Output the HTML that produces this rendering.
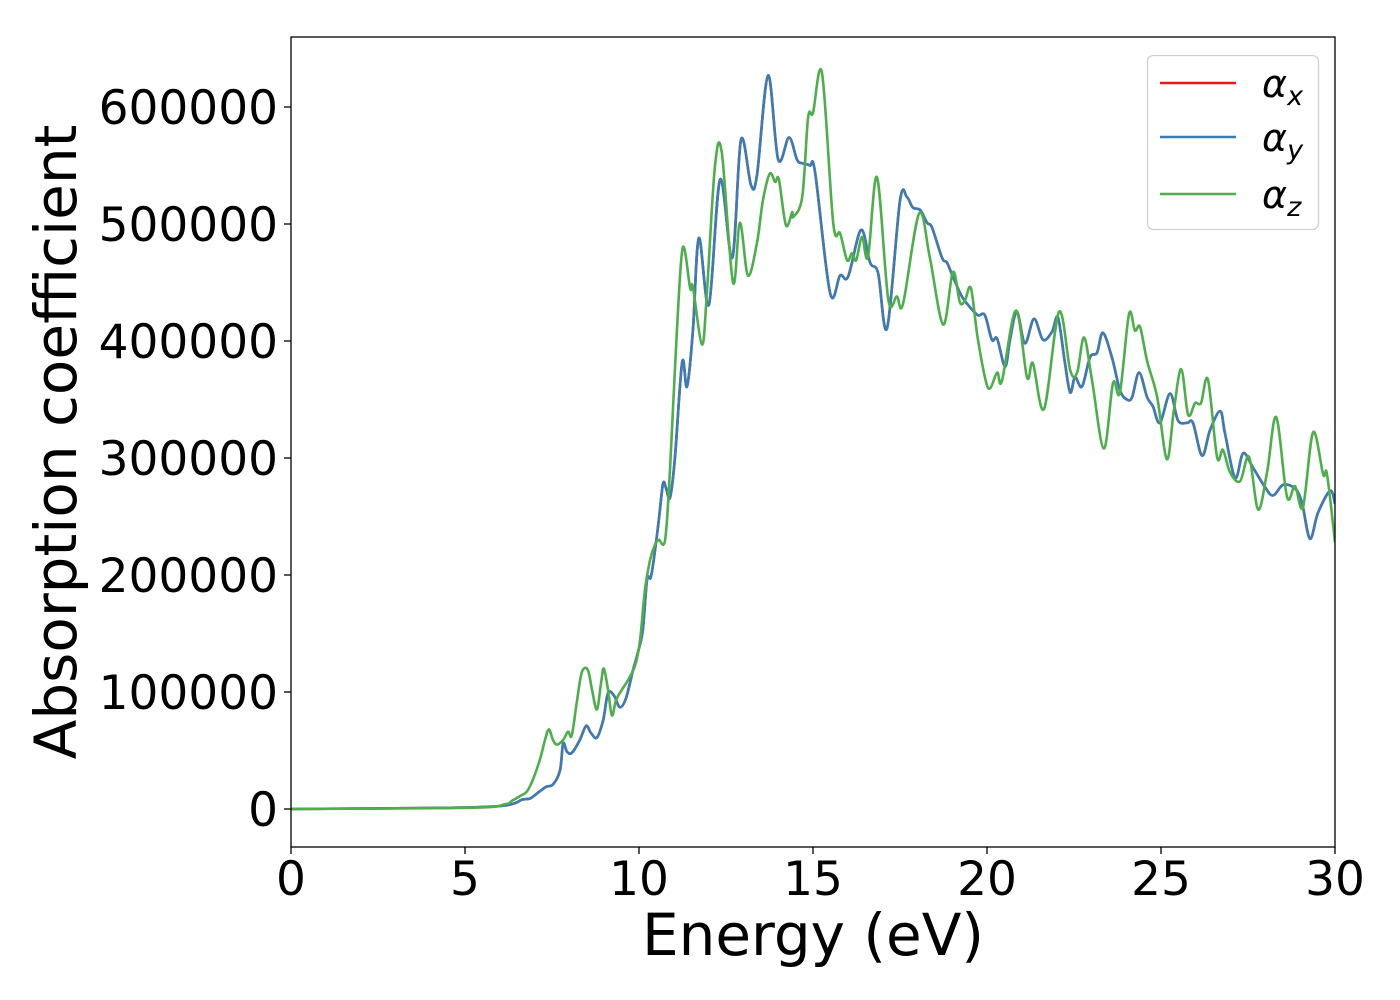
<!DOCTYPE html>
<html><head><meta charset="utf-8"><style>
html,body{margin:0;padding:0;background:#fff;}
svg{display:block;}
text{font-family:"DejaVu Sans","Liberation Sans",sans-serif;fill:#000;}
</style></head><body>
<svg id="chart" width="1400" height="1000" viewBox="0 0 1400 1000" xmlns="http://www.w3.org/2000/svg">
<rect x="0" y="0" width="1400" height="1000" fill="#fff"/>
<g id="grid"></g>
<g id="plot"></g>
<rect x="291" y="37" width="1044" height="810" fill="none" stroke="#000" stroke-width="1.3"/>
<text x="813" y="955" font-size="58" text-anchor="middle">Energy (eV)</text>
<text x="0" y="0" font-size="58" text-anchor="middle" transform="translate(76,442) rotate(-90)">Absorption coefficient</text>
<g>
<rect x="1147.5" y="55.5" width="171" height="174" rx="6" fill="#fff" stroke="#d0d0d0" stroke-width="1.3"/>
<line x1="1160" y1="83" x2="1236" y2="83" stroke="#e41a1c" stroke-width="2.6"/>
<text x="1262" y="97" font-size="38" font-style="italic">α<tspan font-size="27" dy="8">x</tspan></text>
<line x1="1160" y1="137" x2="1236" y2="137" stroke="#377eb8" stroke-width="2.6"/>
<text x="1262" y="151" font-size="38" font-style="italic">α<tspan font-size="27" dy="8">y</tspan></text>
<line x1="1160" y1="194" x2="1236" y2="194" stroke="#4daf4a" stroke-width="2.6"/>
<text x="1262" y="208" font-size="38" font-style="italic">α<tspan font-size="27" dy="8">z</tspan></text>
</g>
</svg>
<script>
const xTicks = [0, 5, 10, 15, 20, 25, 30];
const yTicks = [0, 100000, 200000, 300000, 400000, 500000, 600000];
const energyXY = [0,4.57,5.72,6.15,6.44,6.64,6.87,7.10,7.33,7.53,7.73,7.82,7.93,8.07,8.30,8.48,8.62,8.79,8.97,9.11,9.28,9.45,9.63,9.83,9.97,10.11,10.23,10.34,10.46,10.57,10.69,10.78,10.89,11.03,11.24,11.38,11.55,11.72,12.01,12.33,12.68,12.93,13.22,13.39,13.71,14.00,14.31,14.54,14.68,14.91,15.06,15.49,15.78,16.01,16.38,16.64,16.87,17.13,17.50,17.70,17.87,18.08,18.28,18.42,18.71,18.85,19.02,19.28,19.51,19.74,19.94,20.14,20.29,20.52,20.66,20.86,21.09,21.35,21.61,21.87,22.04,22.24,22.39,22.53,22.73,22.96,23.16,23.33,23.59,23.82,24.02,24.17,24.37,24.60,24.77,24.97,25.26,25.49,25.75,25.92,26.18,26.41,26.70,26.84,27.13,27.36,27.64,27.99,28.22,28.51,28.85,29.05,29.28,29.51,29.86,30.00];
const alphaXk = [0,1,2,3,5,8,9,14,19,21,33,56,49,48,59,71,65,61,76,99,97,87,95,119,134,153,196,198,221,247,278,274,266,299,382,361,409,488,431,538,471,572,533,542,627,555,574,555,552,550,544,441,456,455,495,467,458,411,520,523,514,512,501,497,471,467,455,438,429,422,422,401,402,378,401,425,398,419,401,408,420,381,356,369,361,386,390,407,386,358,350,352,373,352,344,330,355,332,330,330,302,324,340,321,283,304,292,275,268,277,274,262,231,253,272,261];
const alphaYk = alphaXk.slice();
const energyZ = [0,5.14,6.15,6.35,6.58,6.78,6.95,7.15,7.30,7.41,7.53,7.64,7.82,7.96,8.07,8.22,8.36,8.53,8.65,8.79,8.91,8.99,9.11,9.22,9.34,9.51,9.68,9.89,10.03,10.17,10.32,10.46,10.57,10.75,10.89,11.09,11.26,11.47,11.55,11.81,11.95,12.18,12.38,12.70,12.90,13.13,13.39,13.56,13.76,13.91,14.02,14.22,14.40,14.43,14.69,14.86,15.00,15.26,15.58,15.78,15.98,16.12,16.24,16.41,16.58,16.84,17.16,17.41,17.59,18.05,18.36,18.74,19.02,19.22,19.37,19.54,19.74,20.03,20.29,20.43,20.83,21.15,21.32,21.64,22.07,22.39,22.59,22.79,23.02,23.36,23.62,23.82,24.08,24.25,24.40,24.60,24.89,25.17,25.37,25.58,25.78,25.98,26.15,26.35,26.61,26.78,26.98,27.27,27.53,27.79,28.05,28.31,28.62,28.85,29.08,29.37,29.66,29.77,30.00];
const alphaZk = [0,1,4,7,11,15,25,42,59,68,59,55,59,66,63,93,117,119,102,85,108,120,102,80,93,102,110,123,144,187,213,226,230,230,290,409,480,445,446,397,441,549,561,450,501,456,484,520,543,536,538,499,510,506,523,591,595,629,501,492,469,475,469,489,472,540,436,438,432,509,471,414,459,433,435,445,401,360,373,366,426,369,381,342,425,375,373,403,366,308,364,356,423,409,412,383,352,299,341,376,337,347,347,367,301,307,288,280,301,256,288,335,267,276,258,322,286,286,228];

const X0=291, X1=1335, Y0=809, PXPER=1.17/1000;
function xs(e){return X0+(e-0)*(X1-X0)/30;}
function ys(v){return Y0-v*PXPER;}
const NS='http://www.w3.org/2000/svg';
const grid=document.getElementById('grid');
const plot=document.getElementById('plot');

xTicks.forEach(t=>{
  const l=document.createElementNS(NS,'line');
  l.setAttribute('x1',xs(t));l.setAttribute('x2',xs(t));l.setAttribute('y1',847);l.setAttribute('y2',854);
  l.setAttribute('stroke','#000');l.setAttribute('stroke-width','1.3');
  
  
  grid.appendChild(l);
  const tx=document.createElementNS(NS,'text');
  tx.setAttribute('x',xs(t));tx.setAttribute('y',895);tx.setAttribute('font-size','47');tx.setAttribute('text-anchor','middle');
  tx.textContent=String(t);
  
  
  grid.appendChild(tx);
});
yTicks.forEach(t=>{
  const l=document.createElementNS(NS,'line');
  l.setAttribute('x1',284);l.setAttribute('x2',291);l.setAttribute('y1',ys(t));l.setAttribute('y2',ys(t));
  l.setAttribute('stroke','#000');l.setAttribute('stroke-width','1.3');
  
  
  grid.appendChild(l);
  const tx=document.createElementNS(NS,'text');
  tx.setAttribute('x',278);tx.setAttribute('y',ys(t)+17);tx.setAttribute('font-size','47');tx.setAttribute('text-anchor','end');
  tx.textContent=String(t);
  
  
  grid.appendChild(tx);
});

function pathFor(es, vk){
  const p=es.map((e,i)=>[xs(e),ys(vk[i]*1000)]);
  let d='M'+p[0][0].toFixed(1)+','+p[0][1].toFixed(1);
  for(let i=0;i<p.length-1;i++){
    const a=p[i-1]||p[i], b=p[i], c=p[i+1], n=p[i+2]||c;
    const c1=[b[0]+(c[0]-a[0])/6, b[1]+(c[1]-a[1])/6];
    const c2=[c[0]-(n[0]-b[0])/6, c[1]-(n[1]-b[1])/6];
    d+=' C'+c1[0].toFixed(1)+','+c1[1].toFixed(1)+' '+c2[0].toFixed(1)+','+c2[1].toFixed(1)+' '+c[0].toFixed(1)+','+c[1].toFixed(1);
  }
  return d;
}
const clip=document.createElementNS(NS,'clipPath');
clip.setAttribute('id','pc');
const cr=document.createElementNS(NS,'rect');
cr.setAttribute('x',291);cr.setAttribute('y',37);cr.setAttribute('width',1044);cr.setAttribute('height',810);
clip.appendChild(cr);
document.getElementById('chart').appendChild(clip);
plot.setAttribute('clip-path','url(#pc)');

const px=document.createElementNS(NS,'path');
px.setAttribute('d',pathFor(energyXY,alphaXk));
px.setAttribute('fill','none');px.setAttribute('stroke','#e41a1c');px.setAttribute('stroke-width','2.6');


plot.appendChild(px);
const py=document.createElementNS(NS,'path');
py.setAttribute('d',pathFor(energyXY,alphaYk));
py.setAttribute('fill','none');py.setAttribute('stroke','#377eb8');py.setAttribute('stroke-width','2.6');


plot.appendChild(py);
const pz=document.createElementNS(NS,'path');
pz.setAttribute('d',pathFor(energyZ,alphaZk));
pz.setAttribute('fill','none');pz.setAttribute('stroke','#4daf4a');pz.setAttribute('stroke-width','2.6');


plot.appendChild(pz);
</script>
</body></html>
